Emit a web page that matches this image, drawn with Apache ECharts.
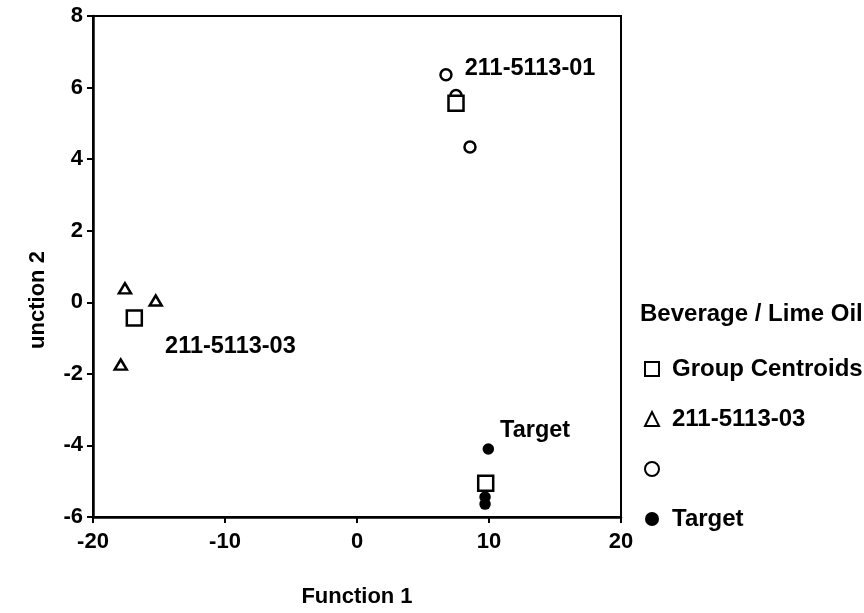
<!DOCTYPE html>
<html>
<head>
<meta charset="utf-8">
<script src="https://cdn.jsdelivr.net/npm/echarts@6/dist/echarts.min.js"></script>
<style>
html,body{margin:0;padding:0;background:#fff;}
#chart{width:864px;height:613px;}
</style>
</head>
<body>
<div id="chart"></div>
<script>
// ---- data ----
const seriesNames = ['Group Centroids', '211-5113-03', '211-5113-01', 'Target'];
const centroidX = [7.5, -16.87, 9.75];
const centroidY = [5.56, -0.44, -5.06];
const triX = [-17.58, -15.25, -17.9];
const triY = [0.39, 0.05, -1.74];
const circleX = [6.74, 7.5, 8.56];
const circleY = [6.36, 5.78, 4.34];
const targetX = [9.95, 9.7, 9.7];
const targetY = [-4.10, -5.44, -5.64];
const xMin = -20, xMax = 20, xStep = 10;
const yMin = -6, yMax = 8, yStep = 2;
const xTitle = 'Function 1';
const yTitle = 'unction 2';
const legendTitle = 'Beverage / Lime Oil';

const FF = '"Liberation Sans", Arial, Helvetica, sans-serif';
const txt = {fontFamily: FF, fontWeight: 'bold', fontSize: 22, color: '#000'};
const big = {fontFamily: FF, fontWeight: 'bold', fontSize: 24, color: '#000'};

function pts(xs, ys) { return xs.map((x, i) => [x, ys[i]]); }
function withLabel(data, idx, text, distance, offset) {
  return data.map((d, i) => i === idx ? {
    value: d,
    label: {show: true, position: 'right', distance: distance, offset: offset,
      formatter: text, fontFamily: FF, fontWeight: 'bold', fontSize: 23.5, color: '#000'}
  } : {value: d});
}

const chart = echarts.init(document.getElementById('chart'), null, {renderer: 'canvas'});
const option = {
  backgroundColor: '#fff',
  animation: false,
  title: {
    text: legendTitle, left: 640, top: 302,
    textStyle: Object.assign({}, big), padding: 0
  },
  legend: {
    orient: 'vertical', left: 644, top: 356, padding: 0,
    itemWidth: 14, itemHeight: 14, itemGap: 24,
    data: seriesNames,
    formatter: function (n) { return n === '211-5113-01' ? ' ' : n; },
    textStyle: Object.assign({lineHeight: 26, padding: [0, 0, 0, 8]}, big)
  },
  grid: {
    left: 93, right: 243, top: 16, bottom: 93,
    show: true, borderColor: '#000', borderWidth: 2, backgroundColor: 'transparent'
  },
  xAxis: {
    type: 'value', min: xMin, max: xMax, interval: xStep,
    name: xTitle, nameLocation: 'middle', nameGap: 69,
    nameTextStyle: Object.assign({}, txt),
    axisLine: {show: true, onZero: false, lineStyle: {color: '#000', width: 2.5}},
    axisTick: {show: true, inside: false, length: 6, lineStyle: {color: '#000', width: 2}},
    axisLabel: Object.assign({margin: 14}, txt),
    splitLine: {show: false}
  },
  yAxis: {
    type: 'value', min: yMin, max: yMax, interval: yStep,
    axisLine: {show: true, onZero: false, lineStyle: {color: '#000', width: 2.5}},
    axisTick: {show: true, inside: false, length: 6, lineStyle: {color: '#000', width: 2}},
    axisLabel: Object.assign({margin: 10}, txt),
    splitLine: {show: false}
  },
  graphic: [{
    type: 'text', x: 38, y: 300, rotation: Math.PI / 2,
    style: {text: yTitle, fontFamily: FF, fontWeight: 'bold', fontSize: 22,
      fill: '#000', align: 'center', verticalAlign: 'middle'}
  }],
  series: [
    {
      name: seriesNames[0], type: 'scatter', z: 5, symbol: 'rect', symbolSize: 15,
      itemStyle: {color: '#fff', borderColor: '#000', borderWidth: 2.5, opacity: 1},
      data: withLabel(pts(centroidX, centroidY), 1, '211-5113-03', 22, [0, 28])
    },
    {
      name: seriesNames[1], type: 'scatter', z: 3, symbol: 'triangle', symbolSize: [12, 10],
      itemStyle: {color: '#fff', borderColor: '#000', borderWidth: 2.5, opacity: 1},
      data: pts(triX, triY)
    },
    {
      name: seriesNames[2], type: 'scatter', z: 3, symbol: 'circle', symbolSize: 11,
      itemStyle: {color: '#fff', borderColor: '#000', borderWidth: 2.5, opacity: 1},
      data: withLabel(pts(circleX, circleY), 0, '211-5113-01', 12, [0, -6])
    },
    {
      name: seriesNames[3], type: 'scatter', z: 3, symbol: 'circle', symbolSize: 11.5,
      itemStyle: {color: '#000', borderColor: '#000', borderWidth: 0, opacity: 1},
      data: withLabel(pts(targetX, targetY), 0, 'Target', 6, [0, -18])
    }
  ]
};
chart.setOption(option);
</script>
</body>
</html>
